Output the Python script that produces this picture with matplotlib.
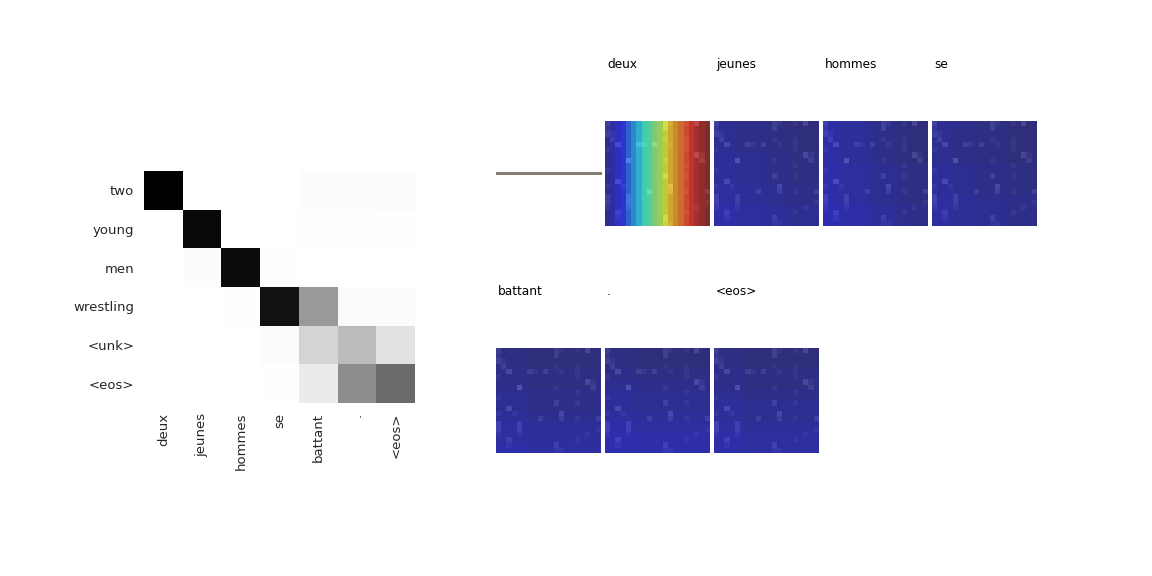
import numpy as np
import matplotlib
matplotlib.use("Agg")
import matplotlib.pyplot as plt

# attention heatmap (rows: output words, cols: input words)
target_words = ["two", "young", "men", "wrestling", "<unk>", "<eos>"]
source_words = ["deux", "jeunes", "hommes", "se", "battant", ".", "<eos>"]
attention = [
    [1.00, 0.00, 0.00, 0.00, 0.02, 0.02, 0.03],
    [0.00, 0.97, 0.00, 0.00, 0.01, 0.01, 0.01],
    [0.00, 0.02, 0.96, 0.01, 0.00, 0.00, 0.00],
    [0.00, 0.00, 0.01, 0.94, 0.49, 0.03, 0.03],
    [0.00, 0.00, 0.00, 0.03, 0.27, 0.38, 0.20],
    [0.00, 0.00, 0.00, 0.01, 0.15, 0.53, 0.66],
]

# shared 20x20 background texture: (row, col, level); every other cell is level 1
speckles = [(0, 0, 3), (0, 11, 3), (0, 12, 2), (0, 15, 2), (0, 17, 4), (1, 0, 2),
            (1, 11, 3), (2, 0, 3), (2, 1, 2), (3, 1, 3), (3, 11, 2), (3, 15, 2),
            (4, 2, 4), (4, 6, 3), (4, 7, 2), (4, 9, 3), (4, 12, 2), (4, 15, 2),
            (5, 0, 2), (5, 15, 2), (6, 17, 4), (6, 18, 2), (7, 4, 5), (7, 11, 2),
            (7, 18, 3), (8, 15, 2), (9, 0, 2), (10, 11, 3), (10, 15, 2), (11, 2, 4),
            (12, 0, 2), (12, 3, 2), (12, 12, 4), (13, 8, 3), (13, 12, 3), (13, 15, 2),
            (13, 19, 3), (14, 0, 3), (14, 4, 3), (15, 0, 3), (15, 4, 3), (15, 19, 2),
            (16, 0, 2), (16, 4, 2), (16, 17, 2), (17, 2, 3), (17, 15, 2), (18, 2, 2),
            (18, 11, 3), (19, 11, 2), (19, 12, 2)]

# attention overlay for "deux": one value per column
deux_cols = [0.02, 0.05, 0.10, 0.14, 0.21, 0.27, 0.33, 0.39, 0.43, 0.50,
             0.57, 0.64, 0.70, 0.75, 0.80, 0.86, 0.90, 0.94, 0.97, 1.00]
# the other words: faint shading, row profile + column profile (10 steps each)
shade_titles = ["jeunes", "hommes", "se", "battant", ".", "<eos>"]
shade_rows = [
    [0.00, 0.00, 0.00, 0.01, 0.01, 0.01, 0.02, 0.02, 0.03, 0.03],
    [0.00, 0.00, 0.00, 0.00, 0.01, 0.01, 0.01, 0.01, 0.02, 0.02],
    [0.00, 0.00, 0.00, 0.00, 0.01, 0.01, 0.01, 0.02, 0.02, 0.02],
    [0.00, 0.00, 0.01, 0.01, 0.02, 0.02, 0.03, 0.04, 0.04, 0.05],
    [0.00, 0.00, 0.01, 0.02, 0.03, 0.03, 0.04, 0.05, 0.06, 0.06],
    [0.00, 0.00, 0.01, 0.01, 0.02, 0.03, 0.03, 0.04, 0.05, 0.05],
]
shade_cols = [
    [0.03, 0.03, 0.02, 0.02, 0.02, 0.01, 0.01, 0.00, 0.00, 0.00],
    [0.06, 0.05, 0.04, 0.04, 0.03, 0.02, 0.02, 0.01, 0.00, 0.00],
    [0.03, 0.03, 0.02, 0.02, 0.01, 0.01, 0.01, 0.00, 0.00, 0.00],
    [0.01, 0.01, 0.01, 0.00, 0.00, 0.00, 0.00, 0.00, 0.00, 0.00],
    [0.01, 0.01, 0.01, 0.00, 0.00, 0.00, 0.00, 0.00, 0.00, 0.00],
    [0.01, 0.01, 0.01, 0.00, 0.00, 0.00, 0.00, 0.00, 0.00, 0.00],
]
strip_color = "#857b6e"

base = np.ones((20, 20))
for r, c, lvl in speckles:
    base[r, c] = lvl
base_gray = 100 + 22 * base

fig = plt.figure(figsize=(11.52, 5.76), dpi=100)
W, H = 1152.0, 576.0

# ---- left: attention matrix
ax = fig.add_axes([144 / W, 1 - 403 / H, 271 / W, 232 / H])
ax.imshow(np.array(attention), cmap="Greys", vmin=0, vmax=1, aspect="auto",
          interpolation="nearest")
ax.set_xticks(range(len(source_words)))
ax.set_xticklabels(source_words, rotation=90, fontsize=9.5, color="#262626")
ax.set_yticks(range(len(target_words)))
ax.set_yticklabels(target_words, fontsize=9.5, color="#262626")
ax.tick_params(length=0, pad=7)
for s in ax.spines.values():
    s.set_visible(False)

# ---- right: overlays
def cell(row, col):
    left = 496 + 109 * col
    top = 121 if row == 0 else 348
    a = fig.add_axes([left / W, 1 - (top + 105) / H, 105 / W, 105 / H])
    a.axis("off")
    return a

# first cell: flat strip
a = cell(0, 0)
a.imshow(np.zeros((1, 52)), cmap=matplotlib.colors.ListedColormap([strip_color]),
         aspect="equal")

def overlay(a, values, title):
    a.imshow(base_gray, cmap="gray", vmin=0, vmax=255, interpolation="nearest")
    a.imshow(values, cmap="jet", vmin=0, vmax=1, alpha=0.62, interpolation="nearest")
    t = a.set_title(title, loc="left", fontsize=8.7, pad=38)
    t.set_x(0.02)

a = cell(0, 1)
overlay(a, np.tile(np.array(deux_cols), (20, 1)), "deux")

positions = [(0, 2), (0, 3), (0, 4), (1, 0), (1, 1), (1, 2)]
for (r, c), t, rows, cols in zip(positions, shade_titles, shade_rows, shade_cols):
    rv = np.repeat(np.array(rows), 2)
    cv = np.repeat(np.array(cols), 2)
    overlay(cell(r, c), rv[:, None] + cv[None, :], t)

fig.savefig("out.png", dpi=100)
